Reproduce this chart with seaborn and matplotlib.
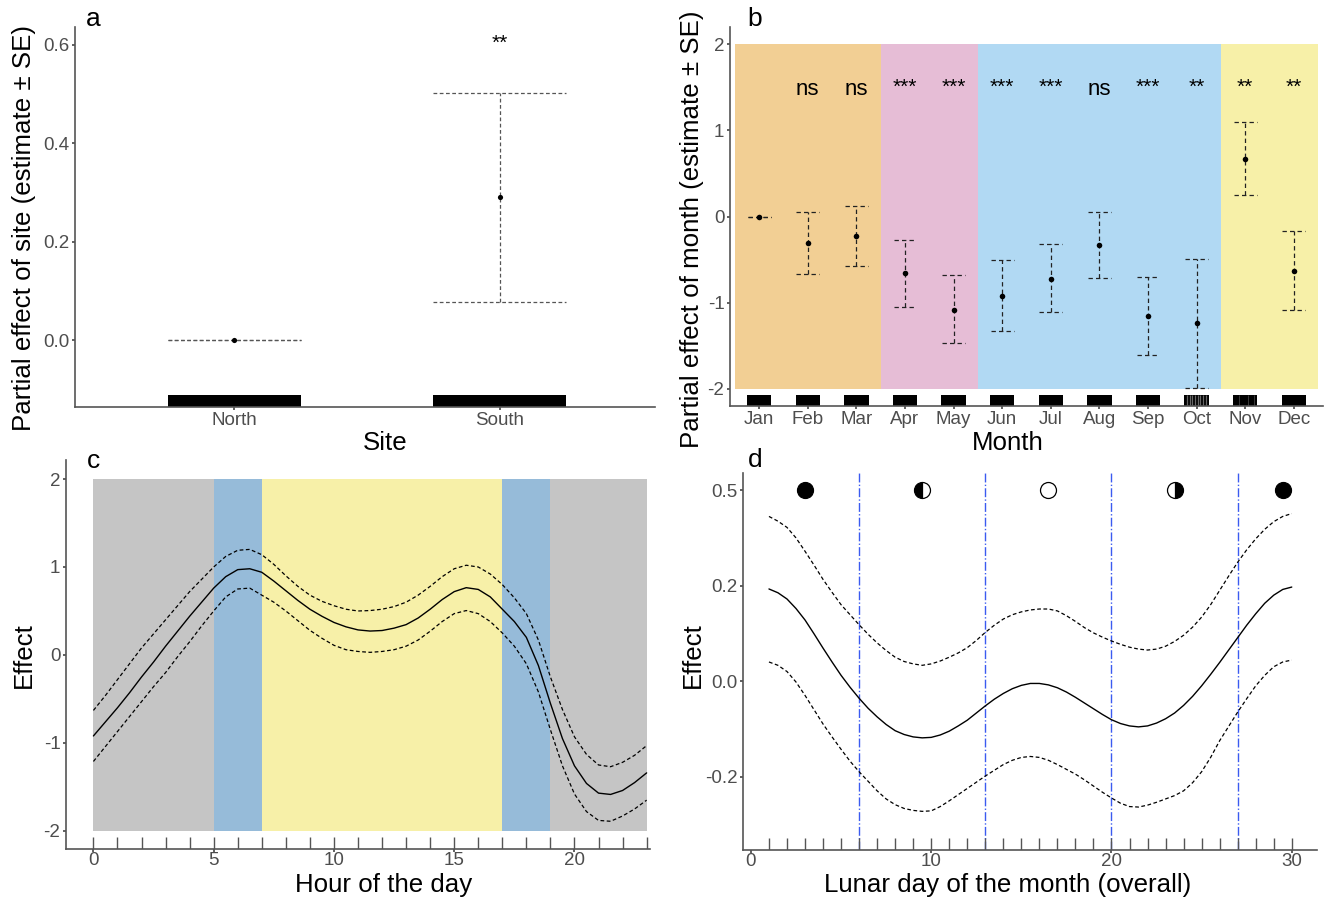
import numpy as np
import matplotlib
matplotlib.use("Agg")
import matplotlib.pyplot as plt
import seaborn as sns

# panel a
sites = ["North", "South"]
site_est = [0.0, 0.29]
site_low = [0.0, 0.078]
site_high = [0.0, 0.502]

# panel b
months = ["Jan", "Feb", "Mar", "Apr", "May", "Jun", "Jul", "Aug", "Sep", "Oct", "Nov", "Dec"]
month_est = [0.0, -0.31, -0.23, -0.66, -1.08, -0.92, -0.72, -0.33, -1.16, -1.24, 0.67, -0.63]
month_low = [0.0, -0.67, -0.58, -1.05, -1.47, -1.33, -1.11, -0.71, -1.61, -1.99, 0.25, -1.08]
month_high = [0.0, 0.05, 0.12, -0.27, -0.68, -0.51, -0.32, 0.05, -0.70, -0.49, 1.10, -0.17]
month_sig = ["", "ns", "ns", "***", "***", "***", "***", "ns", "***", "**", "**", "**"]
season_edges = [-0.5, 2.5, 4.5, 9.5, 11.5]
season_colors = ["#F2CF94", "#E6BDD6", "#B1D9F3", "#F7F0A8"]
oct_gaps = [-0.19, -0.14, -0.09, -0.03, 0.03, 0.07, 0.13, 0.19]
nov_gaps = [-0.12, 0.05, 0.19]

# panel c
hours = [h / 2 for h in range(47)]
hour_fit = [-0.92, -0.76, -0.60, -0.43, -0.25, -0.08, 0.10, 0.27, 0.44, 0.60, 0.76, 0.89, 0.97, 0.98, 0.94, 0.84,
            0.73, 0.62, 0.52, 0.44, 0.37, 0.32, 0.285, 0.272, 0.278, 0.305, 0.345, 0.42, 0.52, 0.63, 0.72, 0.765,
            0.745, 0.66, 0.52, 0.38, 0.20, -0.12, -0.55, -0.95, -1.26, -1.46, -1.57, -1.585, -1.54, -1.45, -1.34]
hour_up = [-0.63, -0.46, -0.28, -0.10, 0.08, 0.24, 0.40, 0.56, 0.72, 0.86, 1.00, 1.12, 1.19, 1.20, 1.14, 1.03,
           0.90, 0.78, 0.68, 0.61, 0.56, 0.52, 0.50, 0.505, 0.52, 0.55, 0.60, 0.68, 0.78, 0.89, 0.98, 1.02,
           1.00, 0.92, 0.80, 0.65, 0.47, 0.17, -0.25, -0.62, -0.93, -1.13, -1.25, -1.27, -1.22, -1.14, -1.03]
hour_low = [-1.21, -1.04, -0.87, -0.70, -0.53, -0.36, -0.20, -0.02, 0.15, 0.33, 0.50, 0.66, 0.75, 0.76, 0.68, 0.60,
            0.50, 0.39, 0.28, 0.19, 0.11, 0.06, 0.04, 0.03, 0.04, 0.06, 0.10, 0.17, 0.27, 0.38, 0.47, 0.505,
            0.47, 0.38, 0.25, 0.10, -0.10, -0.42, -0.85, -1.26, -1.58, -1.78, -1.88, -1.89, -1.83, -1.75, -1.65]
day_edges = [0, 5, 7, 17, 19, 23]
day_colors = ["#C5C5C5", "#96BBD9", "#F7F0A8", "#96BBD9", "#C5C5C5"]
hour_rug = list(range(24))

# panel d
lunar = [d / 2 for d in range(2, 61)]
lunar_fit = [0.193, 0.185, 0.172, 0.152, 0.128, 0.099, 0.069, 0.040, 0.012, -0.013, -0.036, -0.057, -0.075, -0.091,
             -0.104, -0.112, -0.117, -0.119, -0.118, -0.113, -0.105, -0.094, -0.082, -0.067, -0.052, -0.038,
             -0.026, -0.016, -0.009, -0.005, -0.005, -0.008, -0.014, -0.023, -0.034, -0.046, -0.058, -0.070,
             -0.081, -0.089, -0.094, -0.096, -0.094, -0.088, -0.079, -0.067, -0.051, -0.032, -0.010, 0.014,
             0.039, 0.065, 0.091, 0.117, 0.141, 0.163, 0.180, 0.192, 0.197]
lunar_up = [0.345, 0.335, 0.322, 0.300, 0.272, 0.243, 0.213, 0.186, 0.160, 0.139, 0.118, 0.098, 0.080, 0.064,
            0.050, 0.041, 0.036, 0.033, 0.036, 0.042, 0.050, 0.059, 0.070, 0.085, 0.102, 0.117, 0.130, 0.139,
            0.145, 0.149, 0.151, 0.151, 0.147, 0.137, 0.125, 0.112, 0.101, 0.092, 0.084, 0.077, 0.071, 0.067,
            0.065, 0.067, 0.073, 0.083, 0.096, 0.113, 0.134, 0.160, 0.190, 0.220, 0.249, 0.275, 0.298, 0.318,
            0.334, 0.345, 0.351]
lunar_low = [0.040, 0.033, 0.020, -0.002, -0.030, -0.060, -0.090, -0.117, -0.143, -0.168, -0.190, -0.210, -0.230,
             -0.247, -0.259, -0.267, -0.271, -0.273, -0.272, -0.263, -0.251, -0.238, -0.225, -0.212, -0.199,
             -0.187, -0.175, -0.166, -0.160, -0.158, -0.160, -0.166, -0.175, -0.185, -0.195, -0.207, -0.220,
             -0.233, -0.245, -0.256, -0.263, -0.264, -0.260, -0.254, -0.247, -0.240, -0.230, -0.213, -0.190,
             -0.160, -0.125, -0.095, -0.065, -0.037, -0.010, 0.012, 0.030, 0.040, 0.044]
lunar_rug = list(range(1, 31))
phase_lines = [6, 13, 20, 27]
moon_x = [3, 9.5, 16.5, 23.5, 29.5]
moon_fill = ["full", "left", "none", "right", "full"]

W, H = 1325, 899
GREY = "#555555"
TICK = "#4d4d4d"

sns.set_theme(style="ticks")
plt.rcParams["font.family"] = ["Liberation Sans", "DejaVu Sans"]
plt.rcParams["axes.edgecolor"] = GREY
plt.rcParams["axes.linewidth"] = 1.2
plt.rcParams["xtick.color"] = TICK
plt.rcParams["ytick.color"] = TICK
plt.rcParams["xtick.labelsize"] = 13.5
plt.rcParams["ytick.labelsize"] = 13.5
plt.rcParams["xtick.major.size"] = 2
plt.rcParams["ytick.major.size"] = 2
plt.rcParams["xtick.major.pad"] = 0.5
plt.rcParams["ytick.major.pad"] = 2

fig = plt.figure(figsize=(W / 100, H / 100), dpi=100)


def make_axes(left, top, right, bottom):
    ax = fig.add_axes([left / W, 1 - bottom / H, (right - left) / W, (bottom - top) / H])
    sns.despine(ax=ax)
    ax.patch.set_alpha(0)
    return ax


def put_labels(ax, box, xlabel, ylabel, xpx, ypx):
    left, top, right, bottom = box
    ax.set_xlabel(xlabel, fontsize=18.6, color="black", va="center")
    ax.set_ylabel(ylabel, fontsize=18.6, color="black", va="center")
    ax.xaxis.set_label_coords((xpx[0] - left) / (right - left), (bottom - xpx[1]) / (bottom - top))
    ax.yaxis.set_label_coords((ypx[0] - left) / (right - left), (bottom - ypx[1]) / (bottom - top))


# a
box = (75, 27, 655, 407)
ax = make_axes(*box)
x = np.arange(len(sites))
ax.vlines(x, site_low, site_high, color=GREY, lw=0.9, linestyles=(0, (3, 2)))
ax.hlines(site_low + site_high, np.r_[x, x] - 0.25, np.r_[x, x] + 0.25, color=GREY, lw=0.9, linestyles=(0, (3, 2)))
sns.scatterplot(x=x, y=site_est, color="black", s=14, linewidth=0, ax=ax, zorder=3)
ax.bar(x, 0.024, width=0.5, bottom=-0.136, color="black", linewidth=0)
ax.text(1, 0.603, "**", ha="center", va="center", fontsize=15, color="black")
ax.set_xlim(-0.598, 1.583)
ax.set_ylim(-0.136, 0.636)
ax.set_xticks(x, sites)
ax.set_yticks([0, 0.2, 0.4, 0.6], ["0.0", "0.2", "0.4", "0.6"])
ax.tick_params(axis="x", pad=1.5)
put_labels(ax, box, "Site", "Partial effect of site (estimate ± SE)", (385, 443), (24, 228))

# b
box = (730, 27, 1323, 406)
ax = make_axes(*box)
x = np.arange(len(months))
for i, col in enumerate(season_colors):
    ax.fill_betweenx([-2, 2], season_edges[i], season_edges[i + 1], color=col, lw=0)
ax.vlines(x, month_low, month_high, color="#222222", lw=0.9, linestyles=(0, (3.5, 2.5)))
ax.hlines(month_low + month_high, np.r_[x, x] - 0.235, np.r_[x, x] + 0.235, color="#222222", lw=0.9,
          linestyles=(0, (3.5, 2.5)))
sns.scatterplot(x=x, y=month_est, color="black", s=16, linewidth=0, ax=ax, zorder=3)
ax.bar(x, 0.13, width=0.5, bottom=-2.2, color="black", linewidth=0)
ax.vlines(9 + np.array(oct_gaps), -2.2, -2.07, color="#666666", lw=0.9)
ax.vlines(10 + np.array(nov_gaps), -2.2, -2.07, color="#444444", lw=0.6)
for i, s in enumerate(month_sig):
    if s == "ns":
        ax.text(i, 1.48, s, ha="center", va="center", fontsize=16, color="black")
    elif s:
        ax.text(i, 1.50, s, ha="center", va="center", fontsize=15, color="black")
ax.set_xlim(-0.6, 11.6)
ax.set_ylim(-2.2, 2.2)
ax.set_xticks(x, months)
ax.set_yticks([-2, -1, 0, 1, 2], ["-2", "-1", "0", "1", "2"])
ax.tick_params(axis="x", pad=1.5)
put_labels(ax, box, "Month", "Partial effect of month (estimate ± SE)", (1008, 443), (692, 229))

# c
box = (66, 460, 650, 849)
ax = make_axes(*box)
for i, col in enumerate(day_colors):
    ax.fill_betweenx([-2, 2], day_edges[i], day_edges[i + 1], color=col, lw=0)
sns.lineplot(x=hours, y=hour_fit, color="black", lw=1, ax=ax)
sns.lineplot(x=hours, y=hour_up, color="black", lw=0.9, linestyle=(0, (3, 2)), ax=ax)
sns.lineplot(x=hours, y=hour_low, color="black", lw=0.9, linestyle=(0, (3, 2)), ax=ax)
sns.rugplot(x=hour_rug, height=0.031, color="#555555", lw=0.7, ax=ax)
ax.set_xlim(-1.14, 23.14)
ax.set_ylim(-2.205, 2.216)
ax.set_xticks([0, 5, 10, 15, 20])
ax.set_yticks([-2, -1, 0, 1, 2], ["-2", "-1", "0", "1", "2"])
put_labels(ax, box, "Hour of the day", "Effect", (384, 885), (24, 655))

# d
box = (743, 473, 1317, 850)
ax = make_axes(*box)
ax.vlines(phase_lines, -0.354, 0.436, color="#3B5BF0", lw=1, linestyles="-.")
sns.lineplot(x=lunar, y=lunar_fit, color="black", lw=1, ax=ax)
sns.lineplot(x=lunar, y=lunar_up, color="black", lw=0.9, linestyle=(0, (3, 2)), ax=ax)
sns.lineplot(x=lunar, y=lunar_low, color="black", lw=0.9, linestyle=(0, (3, 2)), ax=ax)
sns.rugplot(x=lunar_rug, height=0.032, color="#555555", lw=0.7, ax=ax)
for mx, fill in zip(moon_x, moon_fill):
    ax.plot(mx, 0.4, marker="o", ms=11.5, mec="black", mew=0.9, mfc="black" if fill != "none" else "white",
            fillstyle="full" if fill in ("full", "none") else fill, markerfacecoloralt="white", ls="none")
ax.set_xlim(-0.44, 31.4)
ax.set_ylim(-0.354, 0.436)
ax.set_xticks([0, 10, 20, 30])
ax.set_yticks([-0.2, 0, 0.2, 0.4], ["-0.2", "0.0", "0.2", "0.5"])
put_labels(ax, box, "Lunar day of the month (overall)", "Effect", (1008, 885), (693, 655))

for letter, lx, ly in [("a", 93, 19), ("b", 755, 19), ("c", 93, 461), ("d", 755, 460)]:
    fig.text(lx / W, 1 - ly / H, letter, ha="center", va="center", fontsize=19, color="black")

fig.savefig("out.png", dpi=100)
